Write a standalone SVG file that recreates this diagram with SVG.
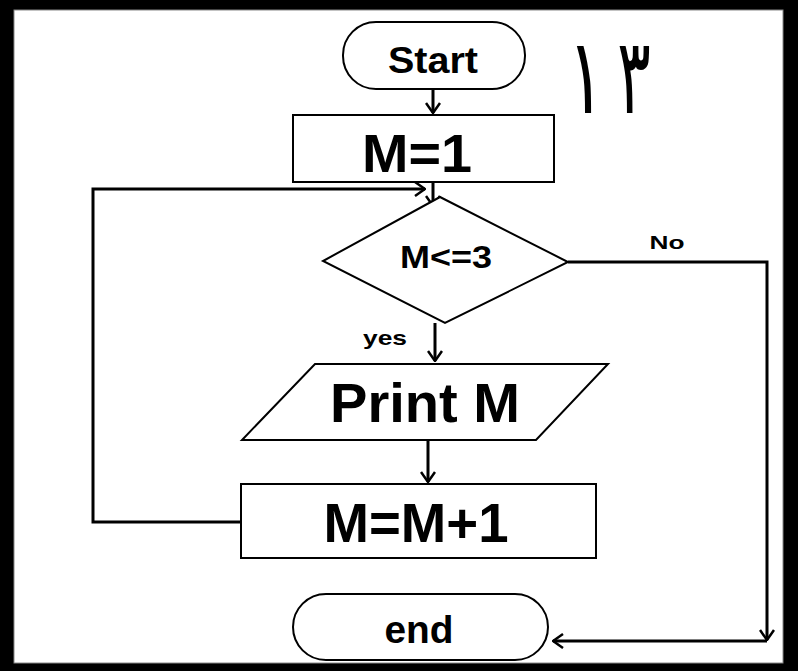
<svg xmlns="http://www.w3.org/2000/svg" width="798" height="671" viewBox="0 0 798 671">
<style>
.shape{fill:#fff;stroke:#000;stroke-width:2}
.lbl{font-family:"Liberation Sans",Arial,sans-serif;font-weight:bold;fill:#000;text-anchor:middle}
.conn{fill:none;stroke:#000;stroke-width:3}
.ar{font-family:"DejaVu Sans",sans-serif;font-size:92px;text-anchor:middle;fill:#000}
</style>
<defs>
<marker id="arr" viewBox="0 0 12 16" refX="11" refY="8" markerWidth="12" markerHeight="16" markerUnits="userSpaceOnUse" orient="auto">
<path d="M1,1 L11,8 L1,15" fill="none" stroke="#000" stroke-width="2.5"/>
</marker>
</defs>
<rect x="0" y="0" width="798" height="671" fill="#000"/>
<rect x="14" y="10" width="769" height="653" fill="#fff" stroke="#888" stroke-width="1"/>

<text class="ar" transform="translate(586,113) scale(0.75,1.15)">١</text>
<text class="ar" transform="translate(634,113) scale(0.68,1.15)">٣</text>

<g id="connectors">
<line class="conn" x1="433" y1="90" x2="433" y2="113" marker-end="url(#arr)"/>
<line class="conn" x1="433" y1="183" x2="433" y2="206" marker-end="url(#arr)"/>
<polyline class="conn" points="241,522 93,522 93,189 425,189" marker-end="url(#arr)"/>
<line class="conn" x1="435" y1="323" x2="435" y2="361" marker-end="url(#arr)"/>
<line class="conn" x1="428" y1="441" x2="428" y2="482" marker-end="url(#arr)"/>
<polyline class="conn" points="568,262 767,262 767,640" marker-end="url(#arr)"/>
<line class="conn" x1="767" y1="641" x2="553" y2="641" marker-end="url(#arr)"/>
<text class="lbl" x="667" y="249" font-size="19" textLength="35" lengthAdjust="spacingAndGlyphs">No</text>
<text class="lbl" x="385" y="345" font-size="21" textLength="44" lengthAdjust="spacingAndGlyphs">yes</text>
</g>

<g id="start">
<rect class="shape" x="343" y="22" width="182" height="67" rx="33" ry="33"/>
<text class="lbl" x="433" y="73" font-size="36" textLength="90" lengthAdjust="spacingAndGlyphs">Start</text>
</g>
<g id="init">
<rect class="shape" x="293" y="115" width="261" height="67"/>
<text class="lbl" x="417" y="172" font-size="54" textLength="110" lengthAdjust="spacingAndGlyphs">M=1</text>
</g>
<g id="cond">
<polygon class="shape" points="440,197 568,262 445,323 323,261"/>
<text class="lbl" x="446" y="268" font-size="32" textLength="92" lengthAdjust="spacingAndGlyphs">M&lt;=3</text>
</g>
<g id="print">
<polygon class="shape" points="315,364 608,364 536,440 242,440"/>
<text class="lbl" x="425" y="422" font-size="56" textLength="190" lengthAdjust="spacingAndGlyphs">Print M</text>
</g>
<g id="incr">
<rect class="shape" x="241" y="484" width="355" height="74"/>
<text class="lbl" x="416" y="542" font-size="56" textLength="185" lengthAdjust="spacingAndGlyphs">M=M+1</text>
</g>
<g id="end">
<rect class="shape" x="293" y="594" width="255" height="66" rx="33" ry="33"/>
<text class="lbl" x="419" y="643" font-size="38" textLength="69" lengthAdjust="spacingAndGlyphs">end</text>
</g>
</svg>
